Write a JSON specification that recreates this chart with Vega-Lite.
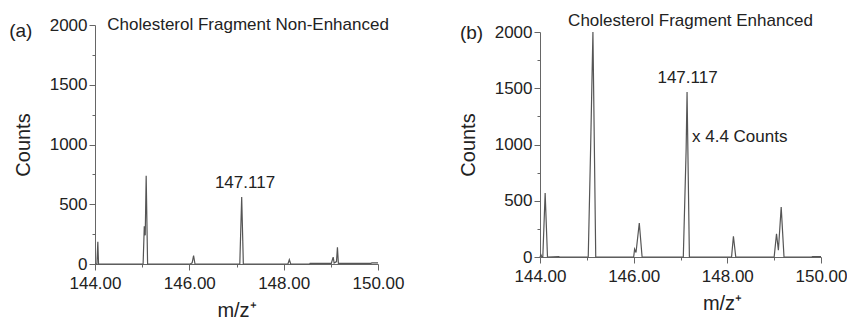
{
  "$schema": "https://vega.github.io/schema/vega-lite/v6.json",
  "padding": {"top": 12, "left": 9, "right": 0, "bottom": 0},
  "background": "white",
  "config": {
    "view": {"stroke": null},
    "font": "Liberation Sans",
    "axis": {
      "grid": false,
      "domainColor": "#666",
      "tickColor": "#666",
      "labelColor": "#222",
      "titleColor": "#222",
      "labelFont": "Liberation Sans",
      "titleFont": "Liberation Sans",
      "labelFontSize": 17,
      "titleFontSize": 20,
      "titleFontWeight": "normal",
      "tickSize": 6,
      "labelPadding": 2,
      "labelFlush": false
    },
    "axisX": {"labelPadding": 5}
  },
  "bounds": "flush",
  "center": true,
  "spacing": 162,
  "datasets": {
    "a": [
      {"mz": 144.0, "counts": 0}, {"mz": 144.04, "counts": 0}, {"mz": 144.06, "counts": 185}, {"mz": 144.075, "counts": 0},
      {"mz": 144.3, "counts": 0}, {"mz": 145.02, "counts": 0}, {"mz": 145.045, "counts": 315}, {"mz": 145.065, "counts": 240},
      {"mz": 145.085, "counts": 738}, {"mz": 145.115, "counts": 0}, {"mz": 146.02, "counts": 0}, {"mz": 146.06, "counts": 10},
      {"mz": 146.09, "counts": 70}, {"mz": 146.12, "counts": 0}, {"mz": 147.07, "counts": 0}, {"mz": 147.11, "counts": 560},
      {"mz": 147.145, "counts": 0}, {"mz": 148.09, "counts": 0}, {"mz": 148.12, "counts": 36}, {"mz": 148.15, "counts": 0},
      {"mz": 148.55, "counts": 0}, {"mz": 148.56, "counts": 6}, {"mz": 149.01, "counts": 6}, {"mz": 149.05, "counts": 58},
      {"mz": 149.07, "counts": 8}, {"mz": 149.12, "counts": 20}, {"mz": 149.14, "counts": 139}, {"mz": 149.16, "counts": 6},
      {"mz": 149.85, "counts": 6}, {"mz": 149.87, "counts": 9}, {"mz": 150.0, "counts": 9}
    ],
    "b": [
      {"mz": 144.0, "counts": 0}, {"mz": 144.02, "counts": 20}, {"mz": 144.04, "counts": 0}, {"mz": 144.06, "counts": 0},
      {"mz": 144.11, "counts": 569}, {"mz": 144.16, "counts": 0}, {"mz": 144.4, "counts": 4}, {"mz": 144.42, "counts": 0},
      {"mz": 145.03, "counts": 0}, {"mz": 145.08, "counts": 950}, {"mz": 145.13, "counts": 2000}, {"mz": 145.19, "counts": 0},
      {"mz": 146.0, "counts": 0}, {"mz": 146.02, "counts": 70}, {"mz": 146.05, "counts": 40}, {"mz": 146.12, "counts": 302},
      {"mz": 146.18, "counts": 0}, {"mz": 147.06, "counts": 0}, {"mz": 147.12, "counts": 950}, {"mz": 147.14, "counts": 1467},
      {"mz": 147.19, "counts": 0}, {"mz": 148.09, "counts": 0}, {"mz": 148.13, "counts": 184}, {"mz": 148.18, "counts": 0},
      {"mz": 149.0, "counts": 0}, {"mz": 149.05, "counts": 207}, {"mz": 149.09, "counts": 60}, {"mz": 149.15, "counts": 444},
      {"mz": 149.21, "counts": 0}, {"mz": 149.8, "counts": 0}, {"mz": 149.82, "counts": 4}, {"mz": 150.0, "counts": 4}
    ]
  },
  "hconcat": [
    {
      "width": 283,
      "height": 239,
      "resolve": {"axis": {"x": "independent", "y": "independent"}},
      "layer": [
        {
          "data": {"name": "a"},
          "mark": {"type": "line", "color": "#555", "strokeWidth": 1.2},
          "encoding": {
            "x": {"field": "mz", "type": "quantitative", "scale": {"domain": [144, 150], "nice": false, "zero": false},
              "axis": {"values": [144, 146, 148, 150], "format": ".2f", "title": "m/z⁺", "titlePadding": 9}},
            "y": {"field": "counts", "type": "quantitative", "scale": {"domain": [0, 2000], "nice": false, "zero": false},
              "axis": {"values": [0, 500, 1000, 1500, 2000], "format": "d", "title": "Counts", "titlePadding": 16}}
          }
        },
        {
          "data": {"values": [
            {"mz": 144.26, "counts": 1958, "label": "Cholesterol Fragment Non-Enhanced"}
          ]},
          "mark": {"type": "text", "fontSize": 17, "color": "#222", "baseline": "alphabetic", "align": "left"},
          "encoding": {
            "x": {"field": "mz", "type": "quantitative", "scale": {"domain": [144, 150], "nice": false, "zero": false},
              "axis": {"orient": "bottom", "values": [145, 147, 149], "labels": false, "domain": false, "tickSize": 3, "title": null}},
            "y": {"field": "counts", "type": "quantitative", "scale": {"domain": [0, 2000], "nice": false, "zero": false},
              "axis": {"orient": "left", "values": [250, 750, 1250, 1750], "labels": false, "domain": false, "tickSize": 3, "title": null}},
            "text": {"field": "label"}
          }
        },
        {
          "data": {"values": [
            {"mz": 142.18, "counts": 1900, "label": "(a)"}
          ]},
          "mark": {"type": "text", "fontSize": 19, "color": "#222", "baseline": "alphabetic", "align": "left"},
          "encoding": {
            "x": {"field": "mz", "type": "quantitative", "scale": {"domain": [144, 150], "nice": false, "zero": false}, "axis": null},
            "y": {"field": "counts", "type": "quantitative", "scale": {"domain": [0, 2000], "nice": false, "zero": false}, "axis": null},
            "text": {"field": "label"}
          }
        },
        {
          "data": {"values": [
            {"mz": 147.18, "counts": 636, "label": "147.117"}
          ]},
          "mark": {"type": "text", "fontSize": 17, "color": "#222", "baseline": "alphabetic", "align": "center"},
          "encoding": {
            "x": {"field": "mz", "type": "quantitative", "scale": {"domain": [144, 150], "nice": false, "zero": false}, "axis": null},
            "y": {"field": "counts", "type": "quantitative", "scale": {"domain": [0, 2000], "nice": false, "zero": false}, "axis": null},
            "text": {"field": "label"}
          }
        }
      ]
    },
    {
      "width": 281,
      "height": 225,
      "resolve": {"axis": {"x": "independent", "y": "independent"}},
      "layer": [
        {
          "data": {"name": "b"},
          "mark": {"type": "line", "color": "#555", "strokeWidth": 1.2},
          "encoding": {
            "x": {"field": "mz", "type": "quantitative", "scale": {"domain": [144, 150], "nice": false, "zero": false},
              "axis": {"values": [144, 146, 148, 150], "format": ".2f", "title": "m/z⁺", "titlePadding": 9, "titleX": 182}},
            "y": {"field": "counts", "type": "quantitative", "scale": {"domain": [0, 2000], "nice": false, "zero": false},
              "axis": {"values": [0, 500, 1000, 1500, 2000], "format": "d", "title": "Counts", "titlePadding": 16}}
          }
        },
        {
          "data": {"values": [
            {"mz": 144.6, "counts": 2053, "label": "Cholesterol Fragment  Enhanced"},
            {"mz": 147.245, "counts": 1022, "label": "x 4.4 Counts"}
          ]},
          "mark": {"type": "text", "fontSize": 17, "color": "#222", "baseline": "alphabetic", "align": "left"},
          "encoding": {
            "x": {"field": "mz", "type": "quantitative", "scale": {"domain": [144, 150], "nice": false, "zero": false},
              "axis": {"orient": "bottom", "values": [145, 147, 149], "labels": false, "domain": false, "tickSize": 3, "title": null}},
            "y": {"field": "counts", "type": "quantitative", "scale": {"domain": [0, 2000], "nice": false, "zero": false},
              "axis": {"orient": "left", "values": [250, 750, 1250, 1750], "labels": false, "domain": false, "tickSize": 3, "title": null}},
            "text": {"field": "label"}
          }
        },
        {
          "data": {"values": [
            {"mz": 142.29, "counts": 1938, "label": "(b)"}
          ]},
          "mark": {"type": "text", "fontSize": 19, "color": "#222", "baseline": "alphabetic", "align": "left"},
          "encoding": {
            "x": {"field": "mz", "type": "quantitative", "scale": {"domain": [144, 150], "nice": false, "zero": false}, "axis": null},
            "y": {"field": "counts", "type": "quantitative", "scale": {"domain": [0, 2000], "nice": false, "zero": false}, "axis": null},
            "text": {"field": "label"}
          }
        },
        {
          "data": {"values": [
            {"mz": 147.15, "counts": 1547, "label": "147.117"}
          ]},
          "mark": {"type": "text", "fontSize": 17, "color": "#222", "baseline": "alphabetic", "align": "center"},
          "encoding": {
            "x": {"field": "mz", "type": "quantitative", "scale": {"domain": [144, 150], "nice": false, "zero": false}, "axis": null},
            "y": {"field": "counts", "type": "quantitative", "scale": {"domain": [0, 2000], "nice": false, "zero": false}, "axis": null},
            "text": {"field": "label"}
          }
        }
      ]
    }
  ]
}
